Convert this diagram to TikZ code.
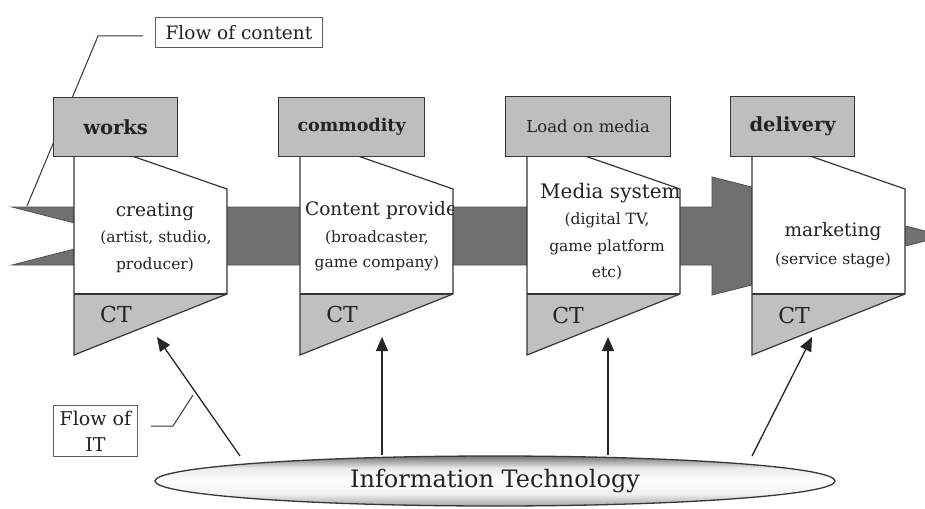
\documentclass[tikz,border=0pt]{standalone}
\usepackage{fontspec}
\setmainfont{DejaVu Serif}
\usetikzlibrary{shapes.geometric,arrows.meta}

\definecolor{bandgray}{RGB}{112,112,112}
\definecolor{bandedge}{RGB}{80,80,80}
\definecolor{headgray}{RGB}{190,190,190}
\definecolor{ctgray}{RGB}{192,192,192}
\definecolor{edgegray}{RGB}{55,55,55}
\definecolor{inkgray}{RGB}{35,35,35}

% grey rim, pale centre for the Information Technology ellipse
% (the band 25bp..75bp is what lands on the shape)
\pgfdeclareverticalshading{itshade}{100bp}{%
  color(0bp)=(black!35); color(25bp)=(black!35); color(37bp)=(black!6);
  color(50bp)=(white); color(63bp)=(black!8); color(75bp)=(black!55); color(100bp)=(black!55)}

\tikzset{
  headbox/.style={draw=edgegray, line width=1.3pt, fill=headgray, anchor=north west,
    inner sep=0pt, text=inkgray},
  headlbl/.style={font=\fontsize{#1}{#1}\selectfont\bfseries, text=inkgray},
  bodyline/.style={draw=edgegray, line width=1.2pt, line join=miter},
  bigtxt/.style={font=\fontsize{18.5}{20}\selectfont, text=inkgray, inner sep=0pt},
  smalltxt/.style={font=\fontsize{15.5}{17}\selectfont, text=inkgray, inner sep=0pt},
  cttxt/.style={font=\fontsize{22}{24}\selectfont, text=inkgray, inner sep=0pt},
  notebox/.style={draw=edgegray!80, line width=0.9pt, fill=white, inner sep=0pt, text=inkgray},
  leader/.style={draw=edgegray, line width=1pt},
  itarrow/.style={draw=black!85, line width=1.3pt, -{Triangle[length=14pt,width=12pt]}},
  itell/.style={ellipse, draw=edgegray, line width=1.3pt, minimum width=680pt, minimum height=50pt,
    inner sep=0pt, shading=itshade,
    font=\fontsize{24}{26}\selectfont, text=inkgray},
}

% one stage body: white pentagon with the grey CT wedge at its foot
\newcommand{\stagebody}[1]{%
  \fill[white] (#1,156) -- (#1+58,156) -- (#1+153,189) -- (#1+153,294) -- (#1,355) -- cycle;
  \fill[ctgray] (#1,294) -- (#1+153,294) -- (#1,355) -- cycle;
  \draw[bodyline] (#1,294) -- (#1+153,294);
  \draw[bodyline] (#1,156) -- (#1+58,156) -- (#1+153,189) -- (#1+153,294) -- (#1,355) -- cycle;
}
\newcommand{\stageclip}[1]{%
  \clip (#1,156) -- (#1+58,156) -- (#1+153,189) -- (#1+153,294) -- (#1,355) -- cycle;
}

\begin{document}
\begin{tikzpicture}[x=1pt, y=-1pt]
\useasboundingbox (0,0) rectangle (925,508);
\fill[white] (0,0) rectangle (925,508);
\clip (0,0) rectangle (925,508);

% content-flow label; its leader runs behind the first header down to the tail
\node[notebox, minimum width=167pt, minimum height=30pt, anchor=north west,
      font=\fontsize{18.5}{20}\selectfont] (fc) at (155,17) {Flow of content};
\coordinate (fcS) at (143,36);
\coordinate (fcA) at (98,36);
\coordinate (fcB) at (27,206);
\draw[leader] (fcS) -- (fcA) -- (fcB);

% the content-flow band with its swallow tail and arrowhead
\fill[bandgray, draw=bandedge, line width=0.8pt]
  (12,207) -- (712,207) -- (712,177) -- (945,236) -- (712,295) -- (712,265)
  -- (12,265) -- (125,236) -- cycle;

% stage bodies
\stagebody{74}
\stagebody{300}
\stagebody{527}
\stagebody{752}

% stage headers
\node[headbox, minimum width=124pt, minimum height=59pt] (h1) at (53,97) {};
\node[headbox, minimum width=146pt, minimum height=59pt] (h2) at (278,97) {};
\node[headbox, minimum width=165pt, minimum height=60pt] (h3) at (505,96) {};
\node[headbox, minimum width=124pt, minimum height=60pt] (h4) at (730,96) {};
\node[headlbl=19.5] (h1t) at (h1.center) {works};
\node[headlbl=17.5] (h2t) at (h2.center) {commodity};
\node[font=\fontsize{16.5}{18}\selectfont, text=inkgray] (h3t) at (h3.center) {Load on media};
\node[headlbl=19.5] (h4t) at (h4.center) {delivery};

% body texts
\node[bigtxt] (c1) at (155,212) {creating};
\node[smalltxt] (c2) at (156,238) {(artist, studio,};
\node[smalltxt] (c3) at (155,265) {producer)};

\begin{scope}
\stageclip{300}
\node[bigtxt, anchor=west] (p1) at (305,210) {Content provider};
\end{scope}
\node[smalltxt] (p2) at (377,238) {(broadcaster,};
\node[smalltxt] (p3) at (377,263) {game company)};

\begin{scope}
\stageclip{527}
\node[font=\fontsize{20}{22}\selectfont, text=inkgray, inner sep=0pt, anchor=west] (m1) at (540,193) {Media system};
\end{scope}
\node[smalltxt] (m2) at (607,220) {(digital TV,};
\node[smalltxt] (m3) at (607,247) {game platform};
\node[smalltxt] (m4) at (607,273) {etc)};

\node[bigtxt] (k1) at (833,232) {marketing};
\node[smalltxt] (k2) at (833,260) {(service stage)};

% CT labels
\node[cttxt] (ct1) at (116,314) {CT};
\node[cttxt] (ct2) at (342,314) {CT};
\node[cttxt] (ct3) at (568,315) {CT};
\node[cttxt] (ct4) at (794,315) {CT};

% Information Technology and its arrows
\node[itell] (it) at (495,481) {Information Technology};
\coordinate (s1) at (240,456);
\coordinate (e1) at (157,337);
\coordinate (s2) at (382,455);
\coordinate (e2) at (382,337);
\coordinate (s3) at (608,455);
\coordinate (e3) at (608,337);
\coordinate (s4) at (752,456);
\coordinate (e4) at (812,337);
\draw[itarrow] (s1) -- (e1);
\draw[itarrow] (s2) -- (e2);
\draw[itarrow] (s3) -- (e3);
\draw[itarrow] (s4) -- (e4);

% IT-flow label and its leader
\node[notebox, minimum width=84pt, minimum height=51pt, anchor=north west, align=center,
      font=\fontsize{19}{26}\selectfont] (fit) at (53,405) {Flow of\\IT};
\coordinate (li1) at (173,426);
\coordinate (li2) at (193,395);
\draw[leader] (fit.east |- li1) ++(13,0) -- (li1) -- (li2);
\end{tikzpicture}
\end{document}
